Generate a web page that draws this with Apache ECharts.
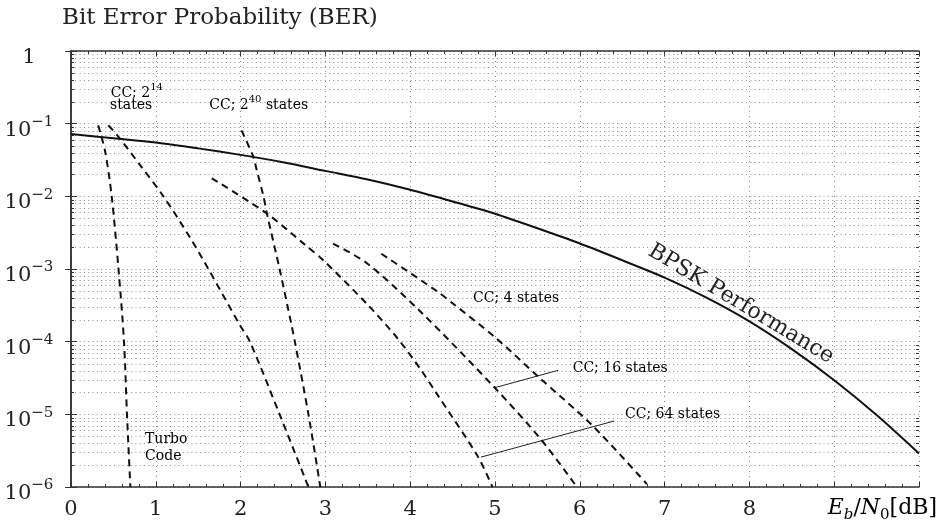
<!DOCTYPE html>
<html><head><meta charset="utf-8">
<script src="https://cdn.jsdelivr.net/npm/echarts@6/dist/echarts.min.js"></script>
<style>html,body{margin:0;padding:0;background:#fff}#c{width:944px;height:524px}</style>
</head><body><div id="c"></div>
<script>
// ---- data (x: Eb/N0 in dB, y: BER) ----
const bpsk = [[0,0.072],[0.5,0.063],[1,0.055],[1.5,0.0457],[2,0.0372],[2.5,0.0295],[3,0.0224],[3.5,0.0170],[4,0.0123],[4.5,0.0085],[5,0.00575],[5.5,0.00363],[6,0.00224],[6.5,0.00132],[7,7.6e-4],[7.5,4.0e-4],[8,1.9e-4],[8.5,7.9e-5],[9,2.95e-5],[9.5,9.8e-6],[10,2.9e-6]];
const turbo = [[0.32,0.095],[0.40,0.043],[0.48,1e-2],[0.56,1e-3],[0.625,1e-4],[0.66,1e-5],[0.70,1e-6]];
const cc2p14 = [[0.44,0.095],[0.56,0.066],[0.83,0.0255],[1.09,1e-2],[1.40,2.75e-3],[1.62,1e-3],[1.99,1.7e-4],[2.11,1e-4],[2.46,1e-5],[2.80,1e-6]];
const cc2p40 = [[2.01,0.081],[2.15,0.035],[2.19,0.023],[2.27,1e-2],[2.31,5.8e-3],[2.46,1e-3],[2.60,1.7e-4],[2.64,1e-4],[2.80,1e-5],[2.94,1e-6]];
const cc64 = [[1.66,0.0177],[2.31,5.8e-3],[2.75,2.2e-3],[2.975,1.32e-3],[3.49,3.3e-4],[3.84,1.15e-4],[4.12,4.2e-5],[4.31,1.95e-5],[4.80,2.6e-6],[4.97,1.0e-6]];
const cc16 = [[3.09,2.24e-3],[3.49,1.2e-3],[4.12,2.6e-4],[5.0,2.3e-5],[5.55,4.4e-6],[5.94,1.1e-6]];
const cc4 = [[3.66,1.62e-3],[4.31,5.0e-4],[4.51,3.3e-4],[5.0,1.15e-4],[5.51,3.3e-5],[6.16,6.8e-6],[6.79,1.1e-6]];
const pointer16 = [[5.0,2.33e-5],[5.746,4.04e-5]];
const pointer64 = [[4.835,2.58e-6],[6.407,8.1e-6]];
// ---- tick labels ----
const xTickLabels = ['0','1','2','3','4','5','6','7','8'];
const yTickExponents = [0,-1,-2,-3,-4,-5,-6];
const yMinorMantissas = [2,3,4,5,6,7,8,9];

const SERIF = '"DejaVu Serif", "Liberation Serif", serif';
const minorGrid = [];
yTickExponents.forEach(function(e){ if (e < 0) yMinorMantissas.forEach(function(m){ minorGrid.push([0, m * Math.pow(10, e)]); }); });

const chart = echarts.init(document.getElementById('c'), null, {renderer:'canvas'});

const GRIDC = '#8a8a8a';
function renderMinor(params, api){
  const cs = params.coordSys;
  const y = Math.round(api.coord([0, api.value(1)])[1]) + 0.5;
  return {type:'group', children:[
    {type:'line', shape:{x1:cs.x, y1:y, x2:cs.x+cs.width, y2:y}, style:{stroke:GRIDC, lineWidth:1, lineDash:[1,3.3]}},
    {type:'line', shape:{x1:cs.x, y1:y, x2:cs.x+3, y2:y}, style:{stroke:'#333', lineWidth:1}},
    {type:'line', shape:{x1:cs.x+cs.width-3, y1:y, x2:cs.x+cs.width, y2:y}, style:{stroke:'#333', lineWidth:1}}
  ]};
}

const dashed = {type:[7,5], width:2, color:'#111'};
function dashSeries(name, data){
  return {name:name, type:'line', data:data, showSymbol:false, smooth:0.3, lineStyle:dashed, z:5, silent:true};
}

const axisLineStyle = {color:'#333', width:1.5};
const option = {
  animation:false,
  backgroundColor:'#fff',
  title:{text:'Bit Error Probability (BER)', left:57, top:2, textStyle:{fontFamily:SERIF, fontSize:23, fontWeight:'normal', color:'#222'}},
  grid:{left:71, right:25, top:51, bottom:37},
  xAxis:[
    {type:'value', min:0, max:10, interval:1, position:'bottom',
     axisLine:{lineStyle:axisLineStyle}, axisTick:{inside:true, length:5, lineStyle:{color:'#333'}},
     minorTick:{show:true, splitNumber:5, length:3, lineStyle:{color:'#333'}},
     splitLine:{show:true, lineStyle:{color:GRIDC, type:[1,4], width:1}},
     axisLabel:{margin:12, fontFamily:SERIF, fontSize:21, color:'#222',
       formatter:function(v){ const i = Math.round(v); return (i < xTickLabels.length && Math.abs(v-i)<1e-9) ? xTickLabels[i] : ''; }}},
    {type:'value', min:0, max:10, interval:1, position:'top',
     axisLine:{lineStyle:axisLineStyle}, axisTick:{inside:true, length:5, lineStyle:{color:'#333'}},
     minorTick:{show:true, splitNumber:5, length:3, lineStyle:{color:'#333'}},
     splitLine:{show:false}, axisLabel:{show:false}}
  ],
  yAxis:[
    {type:'log', logBase:10, min:1e-6, max:1, interval:1, position:'left',
     axisLine:{show:true, lineStyle:axisLineStyle}, axisTick:{show:true, inside:true, length:6, lineStyle:{color:'#333'}},
     splitLine:{show:true, lineStyle:{color:GRIDC, type:[1,3.3], width:1}},
     axisLabel:{margin:42, align:'center', fontFamily:SERIF, fontSize:21, color:'#222', padding:[8,0,0,0],
       formatter:function(v){ const e = Math.round(Math.log10(v)); return e === 0 ? '{b|1}' : '{b|10}{s|\u2212' + (-e) + '}'; },
       rich:{b:{fontFamily:SERIF, fontSize:21, color:'#222', lineHeight:26, verticalAlign:'bottom'},
             s:{fontFamily:SERIF, fontSize:15, color:'#222', lineHeight:15, verticalAlign:'top'}}}},
    {type:'log', logBase:10, min:1e-6, max:1, interval:1, position:'right',
     axisLine:{show:true, lineStyle:axisLineStyle}, axisTick:{show:true, inside:true, length:6, lineStyle:{color:'#333'}},
     splitLine:{show:false}, axisLabel:{show:false}}
  ],
  series:[
    {type:'custom', coordinateSystem:'cartesian2d', data:minorGrid, renderItem:renderMinor, silent:true, z:1, clip:false},
    {name:'BPSK', type:'line', data:bpsk, showSymbol:false, smooth:0.3, lineStyle:{color:'#111', width:2}, z:6, silent:true},
    dashSeries('Turbo', turbo),
    dashSeries('CC 2^14', cc2p14),
    dashSeries('CC 2^40', cc2p40),
    dashSeries('CC 64', cc64),
    dashSeries('CC 16', cc16),
    dashSeries('CC 4', cc4),
    {name:'p16', type:'line', data:pointer16, showSymbol:false, lineStyle:{color:'#222', width:1}, z:4, silent:true},
    {name:'p64', type:'line', data:pointer64, showSymbol:false, lineStyle:{color:'#222', width:1}, z:4, silent:true}
  ]
};
chart.setOption(option);

// ---- annotations anchored in data coordinates ----
const annotations = [
  {text:'{a|CC; 2}{s|14}', at:[0.468, 0.275], align:'left'},
  {text:'{a|states}', at:[0.46, 0.19], align:'left'},
  {text:'{a|CC; 2}{s|40}{a| states}', at:[1.63, 0.192], align:'left'},
  {text:'{a|Turbo}', at:[0.873, 4.87e-6], align:'left'},
  {text:'{a|Code}', at:[0.873, 2.79e-6], align:'left'},
  {text:'{a|CC; 4 states}', at:[4.74, 4.2e-4], align:'left'},
  {text:'{a|CC; 16 states}', at:[5.916, 4.6e-5], align:'left'},
  {text:'{a|CC; 64 states}', at:[6.533, 1.08e-5], align:'left'}
];
const smallRich = {a:{fontFamily:SERIF, fontSize:14, color:'#444', lineHeight:18, verticalAlign:'bottom'},
                   s:{fontFamily:SERIF, fontSize:10, color:'#444', lineHeight:10, verticalAlign:'top'}};
const graphics = annotations.map(function(a){
  const p = chart.convertToPixel({xAxisIndex:0, yAxisIndex:0}, a.at);
  return {type:'text', x:p[0], y:p[1], z:20, silent:true,
    style:{text:a.text, rich:smallRich, align:a.align, verticalAlign:'middle'}};
});
const bp = chart.convertToPixel({xAxisIndex:0, yAxisIndex:0}, [7.9, 3.3e-4]);
graphics.push({type:'text', x:bp[0], y:bp[1], rotation:-31*Math.PI/180, z:20, silent:true,
  style:{text:'BPSK Performance', fontFamily:SERIF, fontSize:22, fill:'#222', align:'center', verticalAlign:'middle'}});
const xn = chart.convertToPixel({xAxisIndex:0, yAxisIndex:0}, [10, 1e-6]);
graphics.push({type:'text', x:xn[0]+18, y:xn[1]+23, z:20, silent:true,
  style:{text:'{i|E}{u|b}{r|/}{i|N}{v|0}{r|[dB]}', align:'right', verticalAlign:'middle',
    rich:{i:{fontFamily:SERIF, fontStyle:'italic', fontSize:22, color:'#222', lineHeight:26, verticalAlign:'top'},
          r:{fontFamily:SERIF, fontSize:22, color:'#222', lineHeight:26, verticalAlign:'top'},
          u:{fontFamily:SERIF, fontStyle:'italic', fontSize:15, color:'#222', lineHeight:15, verticalAlign:'bottom'},
          v:{fontFamily:SERIF, fontSize:15, color:'#222', lineHeight:15, verticalAlign:'bottom'}}}});
chart.setOption({graphic:graphics});
</script></body></html>
